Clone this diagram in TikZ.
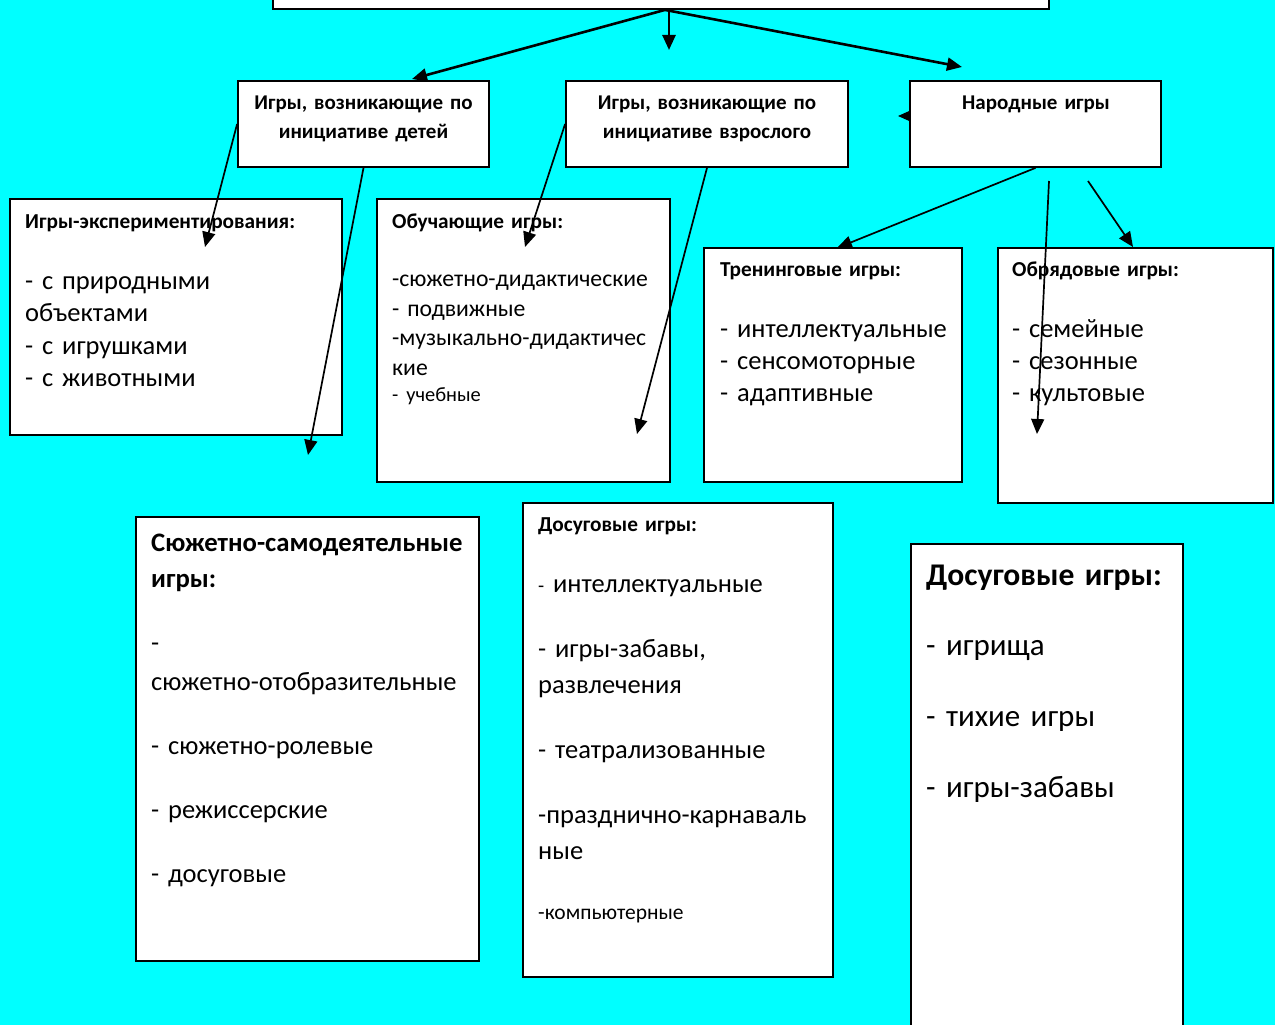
\documentclass[tikz,border=0pt]{standalone}
\usepackage{fontspec}
\setmainfont{Carlito}
\usetikzlibrary{arrows.meta}

\definecolor{bgcyan}{HTML}{00FFFF}

\begin{document}
\begin{tikzpicture}
        [
            x=1pt, y=-1pt,
            Frame/.style=
            {rectangle, draw=black, fill=white,
            line width=1.8pt, inner sep=0pt},
            HeadText/.style=
            {anchor=base west, align=left, inner sep=0pt,
            font=\bfseries\fontsize{21.3}{29}\selectfont},
            ListText/.style=
            {anchor=base west, align=left, inner sep=0pt,
            font=\fontsize{26.5}{32.5}\selectfont},
            TitleText/.style=
            {anchor=base, align=center, inner sep=0pt,
            font=\bfseries\fontsize{21}{29}\selectfont},
            Link/.style=
            {-{Triangle[length=15pt, width=13pt]}, line width=1.7pt},
            MainLink/.style=
            {Link, line width=2.6pt}
        ]
            \useasboundingbox[fill=bgcyan] (0,0) rectangle (1275,1025);

            % top frame, cut by the page edge
            \node[Frame, minimum width=776pt, minimum height=40pt] (top) at (661,-11) {};

            % stray arrow tip left of the folk games box
            \coordinate (n3in) at (960,116);
            \coordinate (n3tip) at (898,116);
            \draw[Link] (n3in) -- (n3tip);

            % first level
            \node[Frame, minimum width=251pt, minimum height=86pt] (n1) at (363.5,124) {};
            \node[Frame, minimum width=282pt, minimum height=86pt] (n2) at (707,124) {};
            \node[Frame, minimum width=251pt, minimum height=86pt] (n3) at (1035.5,124) {};
            \node[TitleText, text width=240pt] (n1t) at (363.5,110)
                {Игры, возникающие по\\инициативе детей};
            \node[TitleText, text width=270pt] (n2t) at (707,110)
                {Игры, возникающие по\\инициативе взрослого};
            \node[TitleText, text width=240pt] (n3t) at (1036,110) {Народные игры};

            % second level
            \node[Frame, minimum width=332pt, minimum height=236pt] (c1) at (176,317) {};
            \node[Frame, minimum width=293pt, minimum height=283pt] (c2) at (523.5,340.5) {};
            \node[Frame, minimum width=258pt, minimum height=234pt] (c3) at (833,365) {};
            \node[Frame, minimum width=275pt, minimum height=255pt] (c4) at (1135.5,375.5) {};

            \node[HeadText, text width=310pt] (c1h) at (25,228) {Игры-экспериментирования:};
            \node[ListText, text width=310pt] (c1l) at (25,289)
                {- с природными\\объектами\\- с игрушками\\- с животными};

            \node[HeadText, text width=270pt] (c2h) at (392,228) {Обучающие игры:};
            \node[ListText, text width=275pt, font=\fontsize{23.7}{29.5}\selectfont] (c2l) at (392,286.7)
                {-сюжетно-дидактические\\- подвижные\\-музыкально-дидактичес\\кие\\[-3pt]%
                {\fontsize{20.4}{20}\selectfont - учебные}};

            \node[HeadText, text width=235pt] (c3h) at (720,276) {Тренинговые игры:};
            \node[ListText, text width=235pt, font=\fontsize{26.5}{32}\selectfont] (c3l) at (720,337.7)
                {- интеллектуальные\\- сенсомоторные\\- адаптивные};

            \node[HeadText, text width=250pt] (c4h) at (1012,276) {Обрядовые игры:};
            \node[ListText, text width=250pt, font=\fontsize{26.5}{32}\selectfont] (c4l) at (1012,337.7)
                {- семейные\\- сезонные\\- культовые};

            % third level
            \node[Frame, minimum width=343pt, minimum height=444pt] (d1) at (307.5,739) {};
            \node[Frame, minimum width=310pt, minimum height=474pt] (d2) at (678,740) {};
            \node[Frame, minimum width=272pt, minimum height=500pt] (d3) at (1047,794) {};

            \node[HeadText, text width=320pt, font=\bfseries\fontsize{26.7}{35.5}\selectfont] (d1h) at (151,551.7)
                {Сюжетно-самодеятельные\\игры:};
            \node[ListText, text width=320pt, font=\fontsize{26.5}{39}\selectfont] (d1l) at (151,651)
                {-\\сюжетно-отобразительные\\[25pt]- сюжетно-ролевые\\[25pt]- режиссерские\\[25pt]- досуговые};

            \node[HeadText, text width=285pt] (d2h) at (538,531.7) {Досуговые игры:};
            \node[ListText, text width=285pt, font=\fontsize{26.5}{36}\selectfont] (d2l) at (538,592.7)
                {{\fontsize{20}{20}\selectfont-} интеллектуальные\\[28.6pt]- игры-забавы,\\развлечения\\[29pt]%
                - театрализованные\\[29pt]-празднично-карнаваль\\ные\\[24pt]%
                {\fontsize{21.5}{20}\selectfont -компьютерные}};

            \node[HeadText, text width=255pt, font=\bfseries\fontsize{31.6}{40}\selectfont] (d3h) at (926,585)
                {Досуговые игры:};
            \node[ListText, text width=255pt, font=\fontsize{31}{71}\selectfont] (d3l) at (926,655)
                {- игрища\\- тихие игры\\- игры-забавы};

            % links
            \coordinate (t1) at (412,79);
            \coordinate (t2) at (669,50);
            \coordinate (t3) at (962,67);
            \draw[MainLink] ([xshift=4pt]top.south) -- (t1);
            \draw[MainLink] ([xshift=8pt]top.south) -- (t2);
            \draw[MainLink] ([xshift=4pt]top.south) -- (t3);

            \coordinate (e1) at (205,247);
            \coordinate (e2) at (308,455);
            \coordinate (e3) at (525,247);
            \coordinate (e4) at (637,434);
            \coordinate (e5) at (837,248);
            \coordinate (s6) at (1049,181);
            \coordinate (e6) at (1037,434);
            \coordinate (s7) at (1088,181);
            \coordinate (e7) at (1133,247);
            \draw[Link] (n1.west) -- (e1);
            \draw[Link] (n1.south) -- (e2);
            \draw[Link] (n2.west) -- (e3);
            \draw[Link] (n2.south) -- (e4);
            \draw[Link] (n3.south) -- (e5);
            \draw[Link] (s6) -- (e6);
            \draw[Link] (s7) -- (e7);
    \end{tikzpicture}
\end{document}
